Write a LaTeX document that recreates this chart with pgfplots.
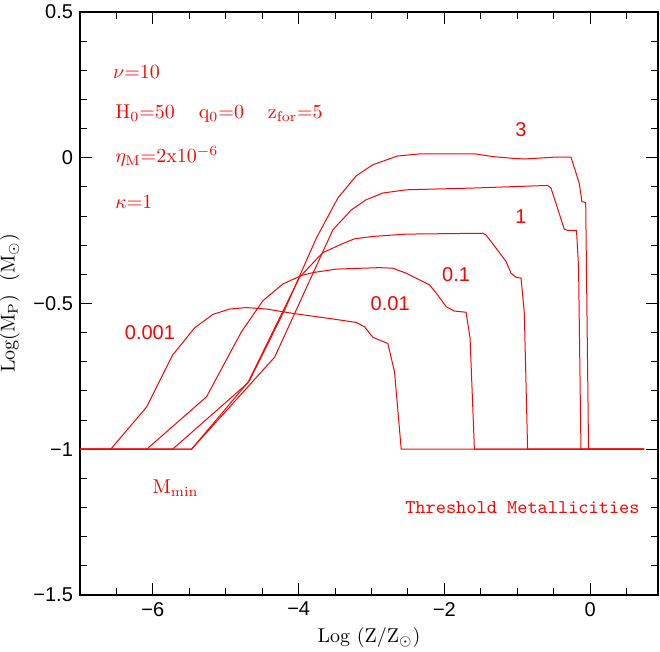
\documentclass[border=0pt]{standalone}
\usepackage{fontspec}
\usepackage{pgfplots}
\pgfplotsset{compat=1.18}
\newfontfamily\hsans{Liberation Sans}
\begin{document}
\begin{tikzpicture}
\useasboundingbox (-40pt,-28.5pt) rectangle (290pt,297.5pt);
\begin{axis}[
  scale only axis, width=289pt, height=291.5pt,
  at={(0,0)}, anchor=south west,
  xmin=-7, xmax=0.93, ymin=-1.5, ymax=0.5,
  xtick={-6,-4,-2,0}, xticklabels={−6,−4,−2,0},
  minor xtick={-6.5,-5.5,-5,-4.5,-3.5,-3,-2.5,-1.5,-1,-0.5,0.5},
  ytick={-1.5,-1,-0.5,0,0.5}, yticklabels={−1.5,−1,−0.5,0,0.5},
  minor ytick={-1.4,-1.3,-1.2,-1.1,-0.9,-0.8,-0.7,-0.6,-0.4,-0.3,-0.2,-0.1,0.1,0.2,0.3,0.4},
  tick align=inside, xtick pos=both, ytick pos=both,
  xticklabel pos=lower, yticklabel pos=left,
  major tick length=6pt, minor tick length=3.5pt,
  every tick/.style={black, line width=0.5pt},
  axis line style={line width=0.6pt},
  tick label style={font=\hsans\fontsize{10}{12}\selectfont},
  xlabel={Log (Z/Z$_\odot$)}, ylabel={Log(M$_{\rm P}$)\ \ (M$_\odot$)},
  xlabel style={yshift=1pt},
]
% 0.001
\addplot[red, line width=0.5pt, mark=none] coordinates {(-7,-1) (-6.579,-1) (-6.086,-0.855) (-5.730,-0.677) (-5.425,-0.583) (-5.174,-0.537) (-4.945,-0.519) (-4.716,-0.514) (-4.442,-0.519) (-4.078,-0.534) (-3.534,-0.553) (-3.209,-0.565) (-3.096,-0.580) (-2.982,-0.616) (-2.777,-0.637) (-2.685,-0.734) (-2.593,-1) (0.74,-1)};
% 0.01
\addplot[red, line width=0.5pt, mark=none] coordinates {(-7,-1) (-6.086,-1) (-5.264,-0.820) (-4.785,-0.597) (-4.489,-0.490) (-4.215,-0.433) (-3.963,-0.404) (-3.804,-0.394) (-3.484,-0.382) (-2.890,-0.377) (-2.708,-0.379) (-2.525,-0.396) (-2.205,-0.436) (-2.092,-0.471) (-1.977,-0.511) (-1.863,-0.526) (-1.703,-0.530) (-1.648,-0.620) (-1.589,-1) (0.74,-1)};
% 0.1
\addplot[red, line width=0.5pt, mark=none] coordinates {(-7,-1) (-5.730,-1) (-4.699,-0.773) (-3.986,-0.409) (-3.671,-0.326) (-3.411,-0.296) (-3.233,-0.278) (-2.982,-0.270) (-2.525,-0.262) (-1.475,-0.259) (-1.429,-0.265) (-1.292,-0.310) (-1.155,-0.356) (-1.086,-0.396) (-1.018,-0.410) (-0.949,-0.413) (-0.904,-0.534) (-0.859,-1) (0.74,-1)};
% 1
\addplot[red, line width=0.5pt, mark=none] coordinates {(-7,-1) (-5.470,-1) (-4.329,-0.684) (-3.530,-0.247) (-3.278,-0.179) (-3.073,-0.144) (-2.845,-0.121) (-2.525,-0.110) (-1.612,-0.104) (-0.585,-0.095) (-0.538,-0.104) (-0.356,-0.245) (-0.311,-0.249) (-0.188,-0.250) (-0.160,-0.374) (-0.127,-1) (0.74,-1)};
% 3
\addplot[red, line width=0.5pt, mark=none] coordinates {(-7,-1) (-5.470,-1) (-4.671,-0.763) (-4.192,-0.522) (-3.758,-0.276) (-3.462,-0.138) (-3.210,-0.062) (-2.982,-0.024) (-2.644,0.006) (-2.342,0.013) (-1.575,0.013) (-1.338,0.004) (-1.018,-0.003) (-0.881,-0.004) (-0.493,0.002) (-0.264,0.002) (-0.151,-0.087) (-0.114,-0.150) (-0.062,-0.154) (-0.023,-1) (0.74,-1)};
% texts
\node[red, anchor=west, inner sep=0pt] at (axis cs:-6.55,0.294) {$\nu$=10};
\node[red, anchor=west, inner sep=0pt] at (axis cs:-6.52,0.150) {H$_0$=50\hspace{1.2em}q$_0$=0\hspace{1.2em}z$_{\rm for}$=5};
\node[red, anchor=west, inner sep=0pt] at (axis cs:-6.52,0.005) {$\eta_{\rm M}$=2x10$^{-6}$};
\node[red, anchor=west, inner sep=0pt] at (axis cs:-6.52,-0.150) {$\kappa$=1};
\node[red, font=\hsans] at (axis cs:-0.95,0.096) {3};
\node[red, font=\hsans] at (axis cs:-0.95,-0.202) {1};
\node[red, font=\hsans] at (axis cs:-1.84,-0.402) {0.1};
\node[red, font=\hsans] at (axis cs:-2.744,-0.502) {0.01};
\node[red, font=\hsans] at (axis cs:-6.04,-0.599) {0.001};
\node[red, anchor=west, inner sep=0pt] at (axis cs:-6.01,-1.134) {M$_{\rm min}$};
\node[red, font=\ttfamily\fontsize{9.7}{11}\selectfont] at (axis cs:-0.93,-1.199) {Threshold Metallicities};
\end{axis}
\end{tikzpicture}
\end{document}
